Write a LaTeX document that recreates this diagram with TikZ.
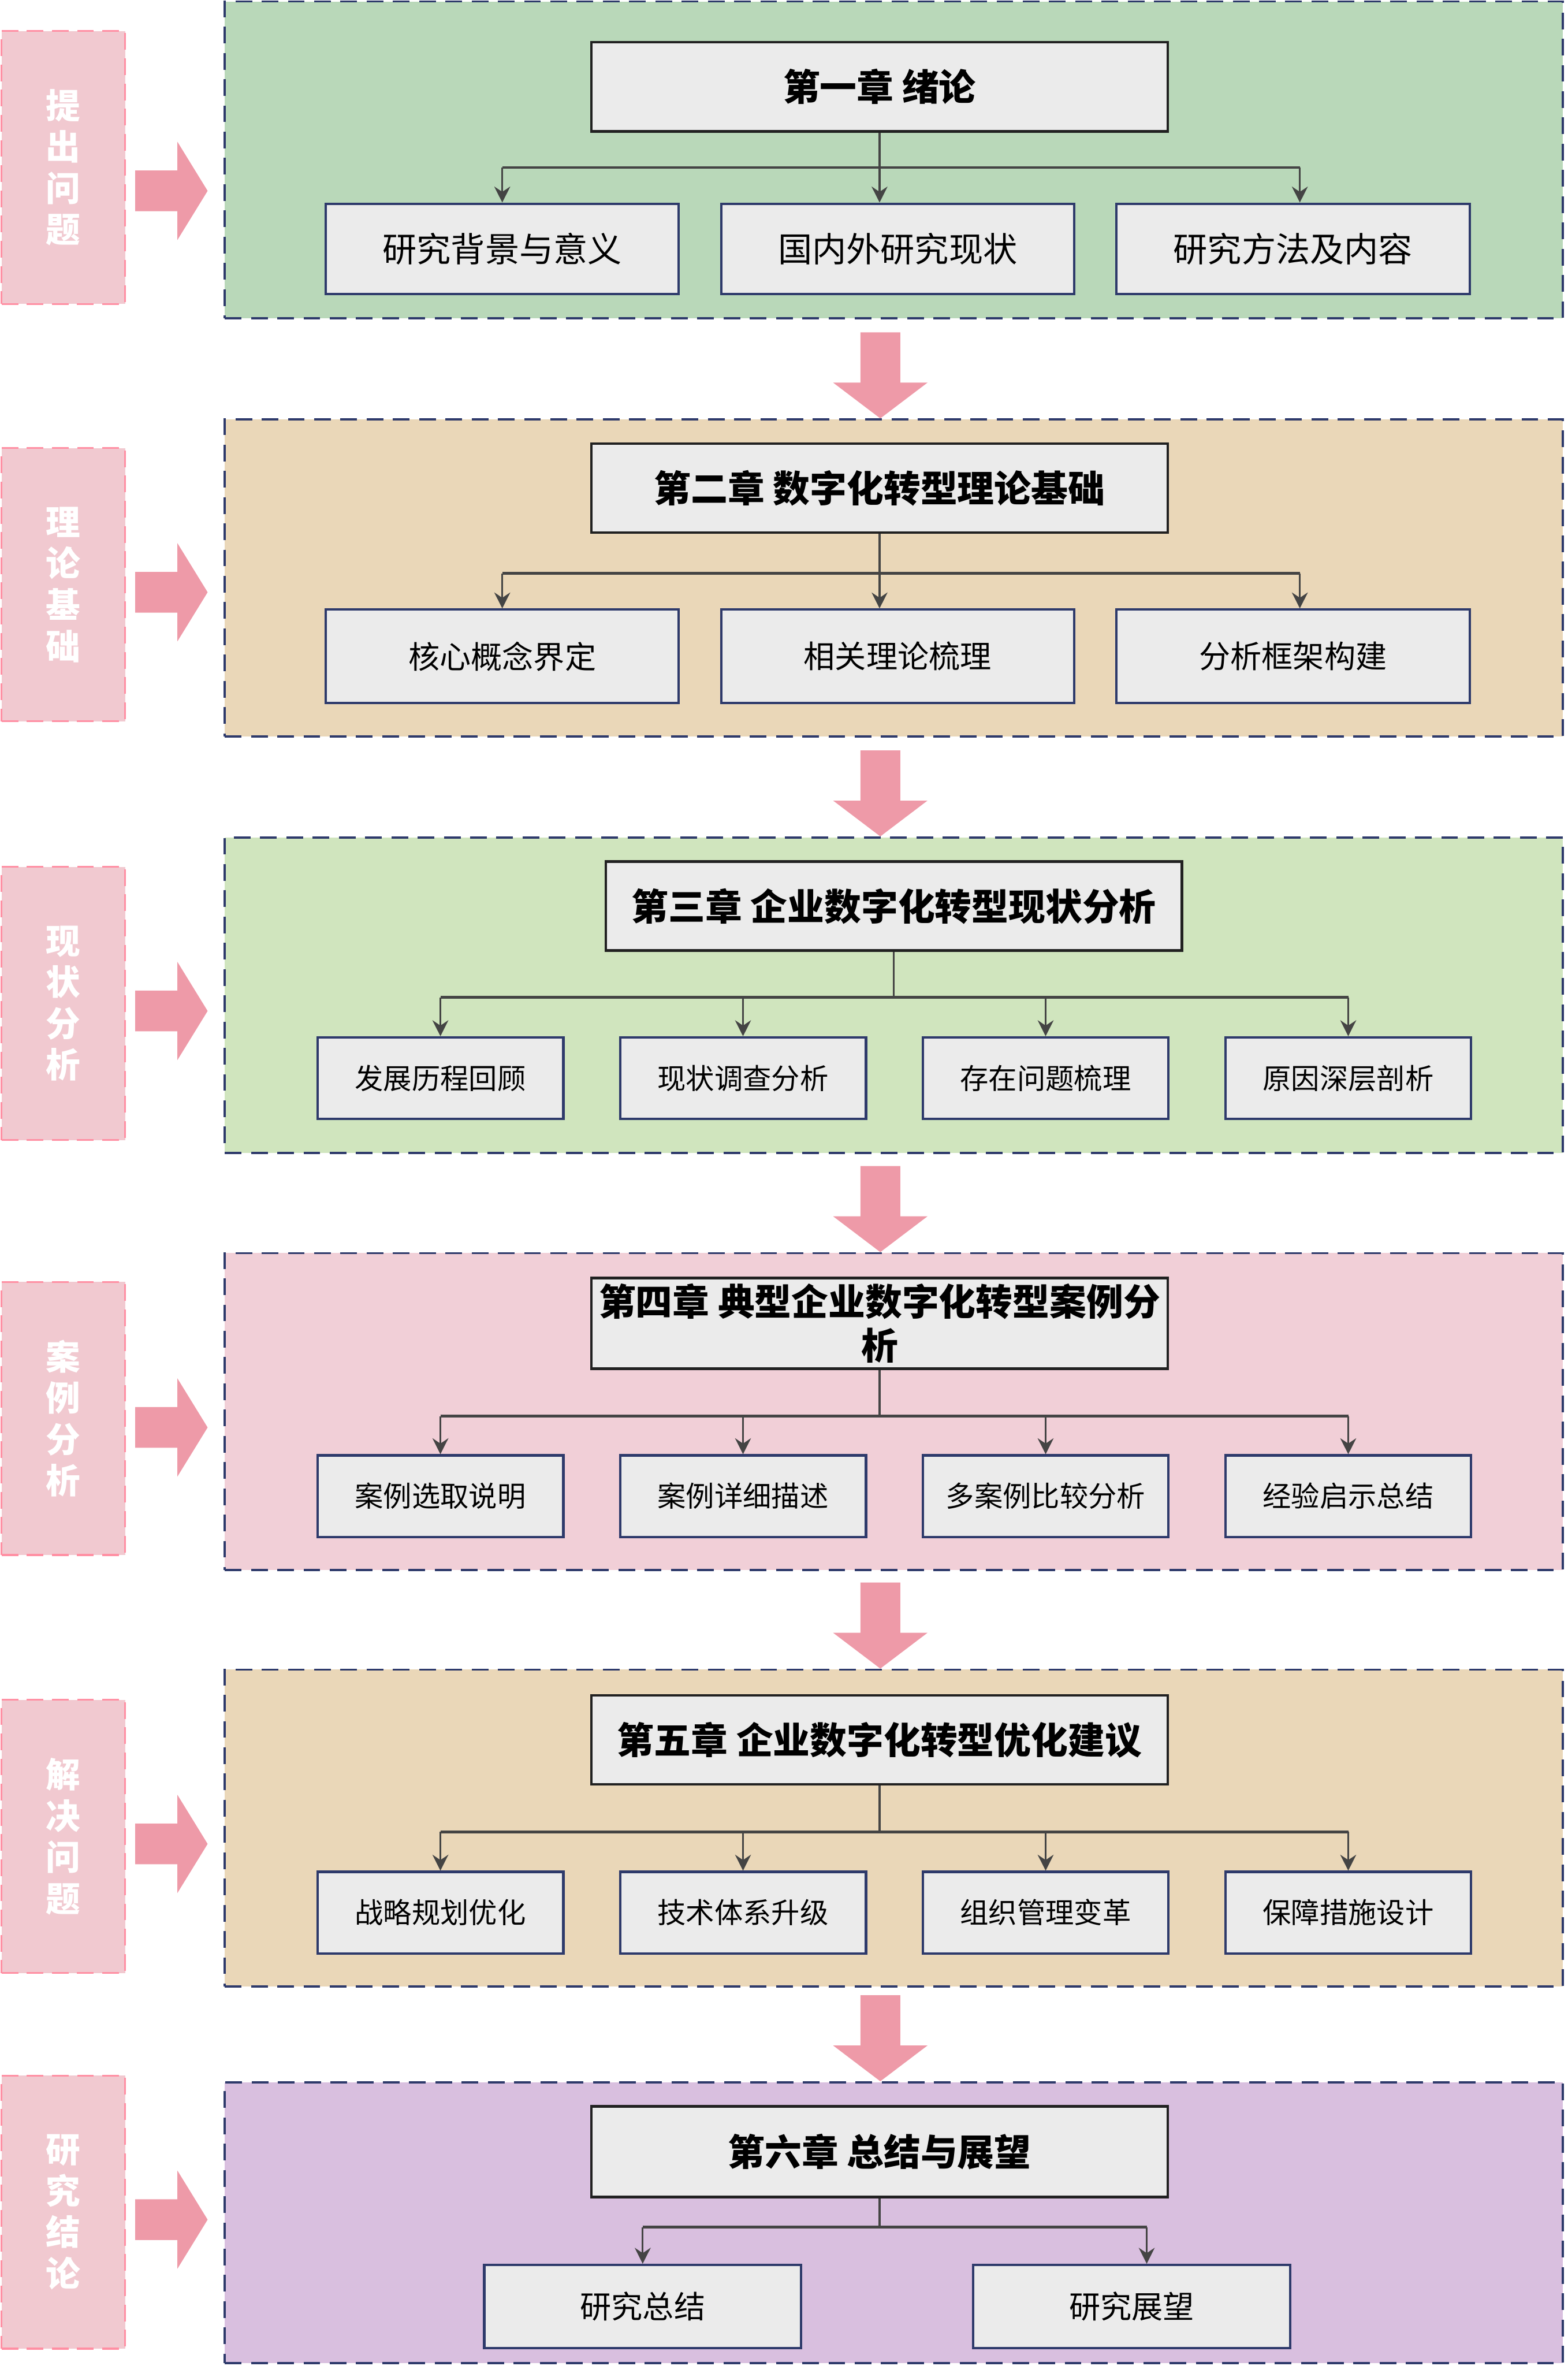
\documentclass[tikz,border=0pt]{standalone}
\usepackage{fontspec}
\setmainfont{Noto Sans CJK SC}
\usepackage{tikz}
\usetikzlibrary{arrows.meta,positioning}
\definecolor{navy}{RGB}{46,58,107}
\definecolor{linegray}{RGB}{68,68,68}
\definecolor{boxgray}{RGB}{235,235,235}
\definecolor{tagpink}{RGB}{241,201,208}
\definecolor{tagborder}{RGB}{255,143,163}
\definecolor{arrowpink}{RGB}{238,154,168}
\definecolor{bggreen}{RGB}{185,216,185}
\definecolor{bgtan}{RGB}{234,215,184}
\definecolor{bglime}{RGB}{208,229,190}
\definecolor{bgpink}{RGB}{241,207,215}
\definecolor{bglilac}{RGB}{217,191,223}
\tikzstyle{chapbox}=[rectangle,draw=navy,line width=0.8pt,dash pattern=on 6.3pt off 3.6pt,
                     minimum width=17.74cm,minimum height=4.2cm,inner sep=0pt]
\tikzstyle{tagbox}=[rectangle,draw=tagborder,fill=tagpink,line width=0.7pt,dash pattern=on 6.3pt off 3.2pt,
                    minimum width=1.64cm,minimum height=3.62cm,inner sep=0pt,align=center,
                    text=white,font=\bfseries\fontsize{13}{15.6}\selectfont]
\tikzstyle{chaptitle}=[rectangle,draw=black!87,fill=boxgray,line width=1pt,minimum width=7.64cm,
                       minimum height=1.18cm,inner sep=0pt,align=center,font=\bfseries\fontsize{13.9}{16.5}\selectfont]
\tikzstyle{subbox}=[rectangle,draw=navy,fill=boxgray,line width=0.9pt,inner sep=0pt]
\tikzstyle{subA}=[subbox,minimum width=4.68cm,minimum height=1.2cm]
\tikzstyle{subB}=[subbox,minimum width=3.26cm,minimum height=1.08cm,font=\fontsize{10.75}{13}\selectfont]
\tikzstyle{subC}=[subbox,minimum width=4.2cm,minimum height=1.1cm,font=\fontsize{11.8}{14}\selectfont]
\tikzstyle{link}=[draw=linegray,line width=0.7pt]
\tikzstyle{bus}=[draw=linegray,line width=1pt]
\tikzstyle{arrow}=[-{Stealth[length=6pt,width=6pt,inset=2pt]},draw=linegray,line width=0.7pt]
\tikzstyle{fatarrow}=[fill=arrowpink]
\begin{document}
\begin{tikzpicture}[node distance=0.53cm]
  \useasboundingbox (0,0) rectangle (20.78,-31.36);

  \node[chapbox,fill=bggreen] (bg1) at (11.85,-2.12) {};
  \node[chapbox,fill=bgtan] (bg2) at (11.85,-7.66) {};
  \node[chapbox,fill=bglime,minimum height=4.18cm] (bg3) at (11.85,-13.19) {};
  \node[chapbox,fill=bgpink] (bg4) at (11.85,-18.71) {};
  \node[chapbox,fill=bgtan] (bg5) at (11.85,-24.23) {};
  \node[chapbox,fill=bglilac,minimum height=3.72cm] (bg6) at (11.85,-29.46) {};

  \node[tagbox] (g1) at (0.84,-2.22) {提\\出\\问\\题};
  \node[tagbox] (g2) at (0.84,-7.75) {理\\论\\基\\础};
  \node[tagbox] (g3) at (0.84,-13.30) {现\\状\\分\\析};
  \node[tagbox] (g4) at (0.84,-18.80) {案\\例\\分\\析};
  \node[tagbox] (g5) at (0.84,-24.34) {解\\决\\问\\题};
  \node[tagbox] (g6) at (0.84,-29.32) {研\\究\\结\\论};

  \foreach \g/\s in {g1/-0.31,g2/-0.1,g3/-0.1,g4/-0.12,g5/-0.1,g6/-0.1}
    \fill[fatarrow] ([xshift=1.08cm,yshift=\s cm]\g.east) -- ++(-0.4,0.65) -- ++(0,-0.38) -- ++(-0.56,0)
      -- ++(0,-0.54) -- ++(0.56,0) -- ++(0,-0.38) -- cycle;
  \foreach \b in {bg2,bg3,bg4,bg5,bg6}
    \fill[fatarrow] ([xshift=-0.18cm]\b.north) -- ++(-0.625,0.474) -- ++(0.361,0) -- ++(0,0.666)
      -- ++(0.528,0) -- ++(0,-0.666) -- ++(0.361,0) -- cycle;

  \node[chaptitle] (t1) at (11.66,-1.15) {第一章 绪论};
  \node[subA,font=\fontsize{12.9}{15}\selectfont] (c12) at (11.90,-3.30) {国内外研究现状};
  \node[subA,font=\fontsize{12.9}{15}\selectfont,left=of c12] (c11) {研究背景与意义};
  \node[subA,font=\fontsize{12.9}{15}\selectfont,right=of c12] (c13) {研究方法及内容};

  \node[chaptitle] (t2) at (11.66,-6.47) {第二章 数字化转型理论基础};
  \node[subA,minimum height=1.24cm,font=\fontsize{11.8}{14}\selectfont] (c22) at (11.90,-8.70) {相关理论梳理};
  \node[subA,minimum height=1.24cm,font=\fontsize{11.8}{14}\selectfont,left=of c22] (c21) {核心概念界定};
  \node[subA,minimum height=1.24cm,font=\fontsize{11.8}{14}\selectfont,right=of c22] (c23) {分析框架构建};

  \node[chaptitle] (t3) at (11.85,-12.01) {第三章 企业数字化转型现状分析};
  \node[subB] (c32) at (9.85,-14.29) {现状调查分析};
  \node[subB,left=0.72cm of c32] (c31) {发展历程回顾};
  \node[subB,right=0.72cm of c32] (c33) {存在问题梳理};
  \node[subB,right=0.72cm of c33] (c34) {原因深层剖析};

  \node[chaptitle,minimum height=1.2cm] (t4) at (11.66,-17.54) {第四章 典型企业数字化转型案例分\\析};
  \node[subB] (c42) at (9.85,-19.83) {案例详细描述};
  \node[subB,left=0.72cm of c42] (c41) {案例选取说明};
  \node[subB,right=0.72cm of c42] (c43) {多案例比较分析};
  \node[subB,right=0.72cm of c43] (c44) {经验启示总结};

  \node[chaptitle] (t5) at (11.66,-23.06) {第五章 企业数字化转型优化建议};
  \node[subB] (c52) at (9.85,-25.35) {技术体系升级};
  \node[subB,left=0.72cm of c52] (c51) {战略规划优化};
  \node[subB,right=0.72cm of c52] (c53) {组织管理变革};
  \node[subB,right=0.72cm of c53] (c54) {保障措施设计};

  \node[chaptitle,minimum height=1.2cm] (t6) at (11.66,-28.52) {第六章 总结与展望};
  \node[subC] (c61) at (8.52,-30.57) {研究总结};
  \node[subC,right=2.25cm of c61] (c62) {研究展望};

  \coordinate (b1) at (0,-2.22);
  \coordinate (a13) at ([xshift=0.09cm]c13.north);
  \draw[link] (t1.south) -- (t1.south |- b1);
  \draw[bus] (c11.north |- b1) -- (a13 |- b1);
  \draw[arrow] (c11.north |- b1) -- (c11.north);
  \draw[arrow] (t1.south |- b1) -- (t1.south |- c12.north);
  \draw[arrow] (a13 |- b1) -- (a13);

  \coordinate (b2) at (0,-7.60);
  \coordinate (a23) at ([xshift=0.09cm]c23.north);
  \draw[link] (t2.south) -- (t2.south |- b2);
  \draw[bus] (c21.north |- b2) -- (a23 |- b2);
  \draw[arrow] (c21.north |- b2) -- (c21.north);
  \draw[arrow] (t2.south |- b2) -- (t2.south |- c22.north);
  \draw[arrow] (a23 |- b2) -- (a23);

  \coordinate (b3) at (0,-13.22);
  \draw[link] (t3.south) -- (t3.south |- b3);
  \draw[bus] (c31.north |- b3) -- (c34.north |- b3);
  \foreach \c in {c31,c32,c33,c34}
    \draw[arrow] (\c.north |- b3) -- (\c.north);

  \coordinate (b4) at (0,-18.77);
  \draw[link] (t4.south) -- (t4.south |- b4);
  \draw[bus] (c41.north |- b4) -- (c44.north |- b4);
  \foreach \c in {c41,c42,c43,c44}
    \draw[arrow] (\c.north |- b4) -- (\c.north);

  \coordinate (b5) at (0,-24.28);
  \draw[link] (t5.south) -- (t5.south |- b5);
  \draw[bus] (c51.north |- b5) -- (c54.north |- b5);
  \foreach \c in {c51,c52,c53,c54}
    \draw[arrow] (\c.north |- b5) -- (\c.north);

  \coordinate (b6) at (0,-29.52);
  \coordinate (a62) at ([xshift=0.2cm]c62.north);
  \draw[link] (t6.south) -- (t6.south |- b6);
  \draw[bus] (c61.north |- b6) -- (a62 |- b6);
  \draw[arrow] (c61.north |- b6) -- (c61.north);
  \draw[arrow] (a62 |- b6) -- (a62);
\end{tikzpicture}
\end{document}
